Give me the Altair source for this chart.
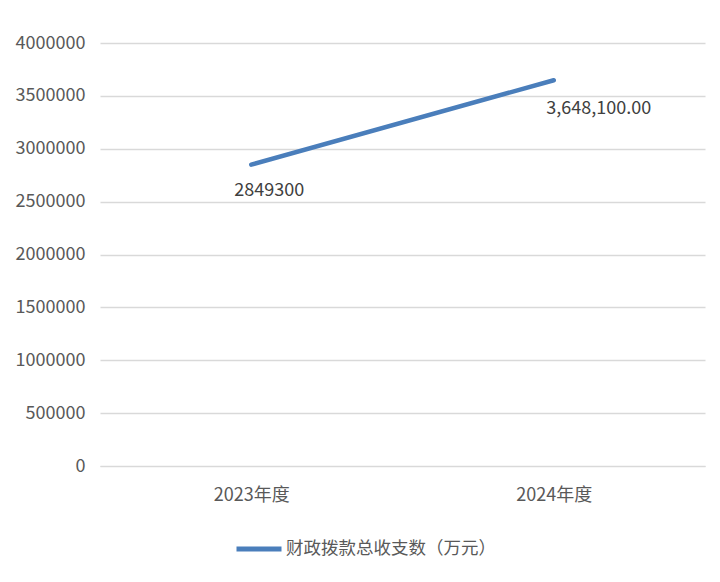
import altair as alt
import pandas as pd

years = ["2023年度", "2024年度"]
values = [2849300, 3648100]
labels = ["2849300", "3,648,100.00"]
series = "财政拨款总收支数（万元）"

df = pd.DataFrame({"year": years, "value": values, "label": labels, "series": [series] * 2})

FONT = "Liberation Sans Narrow, Noto Sans CJK SC, sans-serif"

x = alt.X("year:N", sort=years, title=None,
          scale=alt.Scale(type="point", padding=0.5),
          axis=alt.Axis(labelAngle=0, ticks=False, grid=False, domain=True, domainColor="#d9d9d9",
                        labelFont=FONT, labelFontSize=18, labelColor="#595959", labelPadding=20))
y = alt.Y("value:Q", title=None,
          scale=alt.Scale(domain=[0, 4000000], nice=False),
          axis=alt.Axis(values=[0, 500000, 1000000, 1500000, 2000000, 2500000, 3000000, 3500000, 4000000],
                        format="d", ticks=False, domain=False, gridColor="#d9d9d9", gridWidth=1.3,
                        labelFont=FONT, labelFontSize=18, labelColor="#595959", labelPadding=15))

line = alt.Chart(df).mark_line(strokeWidth=4.5, strokeCap="round").encode(
    x=x, y=y,
    color=alt.Color("series:N", scale=alt.Scale(range=["#4a7ebb"]),
                    legend=alt.Legend(title=None, orient="none", legendX=134, legendY=481,
                                      symbolType="stroke", symbolSize=2025, symbolStrokeWidth=5,
                                      labelFont=FONT, labelFontSize=17.5, labelColor="#595959",
                                      labelOffset=2, labelLimit=500))
)

t1 = alt.Chart(df).transform_filter(alt.datum.year == years[0]).mark_text(
    align="center", baseline="middle", dx=18, dy=26, font=FONT, fontSize=18, color="#404040"
).encode(x=x, y=y, text="label:N")

t2 = alt.Chart(df).transform_filter(alt.datum.year == years[1]).mark_text(
    align="center", baseline="middle", dx=45, dy=29, font=FONT, fontSize=18, color="#404040"
).encode(x=x, y=y, text="label:N")

chart = alt.layer(line, t1, t2).properties(
    width=605, height=423,
    background="white",
    autosize=alt.AutoSizeParams(type="none"),
    padding={"left": 92, "top": 35, "right": 7, "bottom": 108},
).configure_view(stroke=None)

chart.save("out.html", embed_options={"renderer": "svg", "actions": False})
